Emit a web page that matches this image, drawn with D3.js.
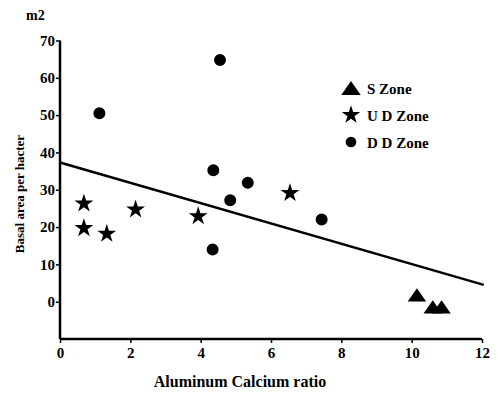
<!DOCTYPE html>
<html>
<head>
<meta charset="utf-8">
<script src="https://cdn.jsdelivr.net/npm/d3@7"></script>
<style>
  body { margin: 0; background: #fff; }
</style>
</head>
<body>
<svg width="500" height="393"></svg>
<script>
// values
var sZoneX = [10.15, 10.6, 10.85];
var sZoneY = [1.8, -1.4, -1.4];
var udZoneX = [0.68, 0.68, 1.33, 2.15, 3.93, 6.54];
var udZoneY = [26.3, 19.7, 18.2, 24.7, 22.9, 29.1];
var ddZoneX = [1.12, 4.55, 4.36, 5.34, 4.84, 7.44, 4.34];
var ddZoneY = [50.5, 64.8, 35.2, 31.9, 27.2, 22.0, 14.0];
var fitX = [0, 12.05];
var fitY = [37.3, 4.5];
var xTicks = [0, 2, 4, 6, 8, 10, 12];
var yTicks = [0, 10, 20, 30, 40, 50, 60, 70];
var legendNames = ['S Zone', 'U D Zone', 'D D Zone'];

var serif = '"Liberation Serif", "Times New Roman", "DejaVu Serif", serif';
var pic = d3.select('svg');

var x = d3.scaleLinear().domain([0, 12]).range([60, 482]);
var y = d3.scaleLinear().domain([-10, 70]).range([339, 40.5]);

// flat triangle like the one in the scan
var flatTriangle = {
  draw: function(ctx, size) {
    var w = Math.sqrt(size);
    var h = w * 0.72;
    ctx.moveTo(0, -h / 2);
    ctx.lineTo(w / 2, h / 2);
    ctx.lineTo(-w / 2, h / 2);
    ctx.closePath();
  }
};

// axes
var xAxis = pic.append('g').attr('transform', 'translate(0,339)')
  .call(d3.axisBottom(x).tickValues(xTicks).tickSize(4).tickPadding(4).tickFormat(d3.format('d')));
var yAxis = pic.append('g').attr('transform', 'translate(60,0)')
  .call(d3.axisLeft(y).tickValues(yTicks).tickSize(4).tickPadding(1).tickFormat(d3.format('d')));

[xAxis, yAxis].forEach(function(a) {
  a.attr('font-family', null).attr('font-size', null);
  a.select('.domain').attr('stroke', '#000').attr('stroke-width', 2.5);
  a.selectAll('.tick line').attr('stroke', '#000').attr('stroke-width', 1.5);
  a.selectAll('.tick text')
    .style('font-family', serif).style('font-weight', 'bold').style('font-size', '15px');
});
xAxis.select('.domain').attr('d', 'M' + x(0) + ',0H' + x(12));
yAxis.select('.domain').attr('d', 'M0,' + y(-10) + 'V' + y(70));

// fit line
pic.append('line')
  .attr('x1', x(fitX[0])).attr('y1', y(fitY[0]))
  .attr('x2', x(fitX[1])).attr('y2', y(fitY[1]))
  .attr('stroke', '#000').attr('stroke-width', 2.5);

var drawMarks = function(xs, ys, type, size) {
  pic.append('g').selectAll('path').data(xs).enter().append('path')
    .attr('transform', function(d, i) { return 'translate(' + x(d) + ',' + y(ys[i]) + ')'; })
    .attr('d', d3.symbol().type(type).size(size))
    .attr('fill', '#000');
}

drawMarks(ddZoneX, ddZoneY, d3.symbolCircle, 113);
drawMarks(udZoneX, udZoneY, d3.symbolStar, 110);
drawMarks(sZoneX, sZoneY, flatTriangle, 340);

var addText = function(px, py, size, str) {
  return pic.append('text').attr('x', px).attr('y', py)
    .style('font-family', serif).style('font-weight', 'bold')
    .style('font-size', size + 'px').text(str);
}

// legend
var legendTypes = [flatTriangle, d3.symbolStar, d3.symbolCircle];
var legendSizes = [380, 105, 90];
legendNames.forEach(function(name, i) {
  var ly = 88 + i * 27;
  pic.append('path')
    .attr('transform', 'translate(351,' + ly + ')')
    .attr('d', d3.symbol().type(legendTypes[i]).size(legendSizes[i]))
    .attr('fill', '#000');
  addText(367, ly + 6, 15, name);
});

// titles
addText(240, 387, 16, 'Aluminum Calcium ratio').attr('text-anchor', 'middle');
addText(0, 0, 13, 'Basal area per hacter')
  .attr('transform', 'translate(24,194) rotate(-90)')
  .attr('text-anchor', 'middle');
addText(26, 20, 14, 'm2');
</script>
</body>
</html>
